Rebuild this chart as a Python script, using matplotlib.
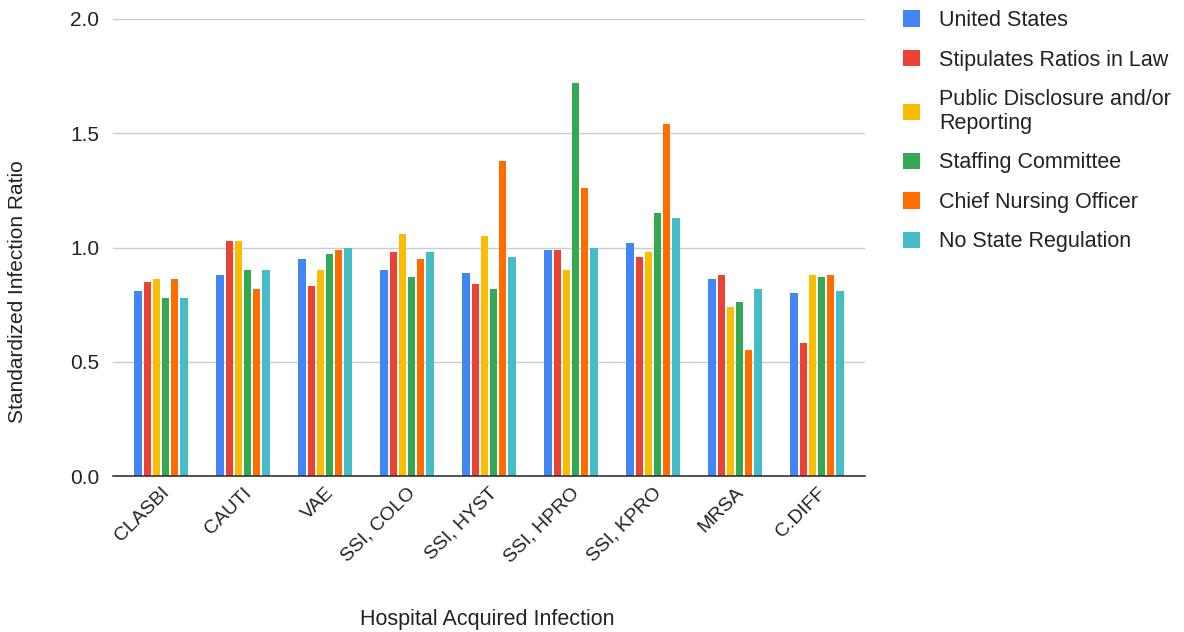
import matplotlib
matplotlib.use("Agg")
import matplotlib.pyplot as plt
import numpy as np
from matplotlib.patches import Patch

categories = ["CLASBI", "CAUTI", "VAE", "SSI, COLO", "SSI, HYST", "SSI, HPRO", "SSI, KPRO", "MRSA", "C.DIFF"]
series_names = ["United States", "Stipulates Ratios in Law", "Public Disclosure and/or\nReporting",
                "Staffing Committee", "Chief Nursing Officer", "No State Regulation"]
united_states = [0.81, 0.88, 0.95, 0.90, 0.89, 0.99, 1.02, 0.86, 0.80]
stipulates_ratios = [0.85, 1.03, 0.83, 0.98, 0.84, 0.99, 0.96, 0.88, 0.58]
public_disclosure = [0.86, 1.03, 0.90, 1.06, 1.05, 0.90, 0.98, 0.74, 0.88]
staffing_committee = [0.78, 0.90, 0.97, 0.87, 0.82, 1.72, 1.15, 0.76, 0.87]
chief_nursing = [0.86, 0.82, 0.99, 0.95, 1.38, 1.26, 1.54, 0.55, 0.88]
no_state_reg = [0.78, 0.90, 1.00, 0.98, 0.96, 1.00, 1.13, 0.82, 0.81]
series_values = [united_states, stipulates_ratios, public_disclosure, staffing_committee, chief_nursing, no_state_reg]
colors = ["#4285F4", "#EA4335", "#FBBC04", "#34A853", "#FF6D01", "#46BDC6"]
yticks = [0.0, 0.5, 1.0, 1.5, 2.0]

plt.rcParams['font.family'] = ['Liberation Sans', 'DejaVu Sans']
fig = plt.figure(figsize=(11.84, 6.32), dpi=100)
ax = fig.add_axes([113/1184, 1-476/632, (865-113)/1184, (476-19)/632])

x = np.arange(len(categories))
step = 0.112
width = 0.09
n = len(series_values)
for i, (vals, c) in enumerate(zip(series_values, colors)):
    offs = (i - (n-1)/2) * step
    ax.bar(x + offs, vals, width=width, color=c, zorder=3, label=series_names[i])

ax.set_xlim(-0.585, len(categories) - 1 + 0.585)
ax.set_ylim(0, 2.0)
ax.set_yticks(yticks)
ax.set_yticklabels([f"{v:.1f}" for v in yticks], fontsize=15, color="#222222")
ax.yaxis.grid(True, color="#cccccc", linewidth=1, zorder=0)
ax.set_axisbelow(True)
for s in ["top", "right", "left"]:
    ax.spines[s].set_visible(False)
ax.spines["bottom"].set_color("#333333")
ax.spines["bottom"].set_linewidth(1.2)
ax.spines["bottom"].set_zorder(4)
ax.tick_params(axis="y", length=0, pad=10)
ax.tick_params(axis="x", length=0, pad=6)
ax.set_xticks(x)
ax.set_xticklabels(categories, rotation=45, ha="right", rotation_mode="anchor", fontsize=14, color="#222222")

fig.text(487/1184, 1-620/632, "Hospital Acquired Infection", ha="center", va="center", fontsize=15.5, color="#222222")
fig.text(18/1184, 1-292/632, "Standardized Infection Ratio", ha="center", va="center", rotation=90, fontsize=15, color="#222222")

handles = [Patch(facecolor=c, edgecolor="none") for c in colors]
leg = fig.legend(handles, series_names, loc="upper left", bbox_to_anchor=(903/1184, 1-10/632),
                 frameon=False, fontsize=15.5, handlelength=0.8, handleheight=0.8,
                 labelspacing=0.86, handletextpad=0.87, borderaxespad=0, borderpad=0)
for t in leg.get_texts():
    t.set_color("#222222")
    t.set_linespacing(1.18)

fig.savefig("out.png", dpi=100, facecolor="white")
